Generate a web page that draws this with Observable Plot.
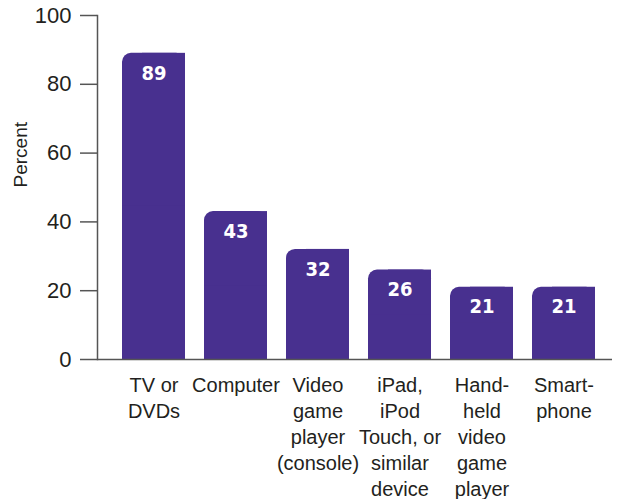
<!DOCTYPE html>
<html>
<head>
<meta charset="utf-8">
<script src="https://cdn.jsdelivr.net/npm/d3@7"></script>
<script src="https://cdn.jsdelivr.net/npm/@observablehq/plot@0.6"></script>
<style>
  html, body { margin: 0; padding: 0; background: #fff; }
  #chart svg { display: block; }
</style>
</head>
<body>
<div id="chart"></div>
<script>
const categories = ["TV or\nDVDs", "Computer", "Video\ngame\nplayer\n(console)", "iPad,\niPod\nTouch, or\nsimilar\ndevice", "Hand-\nheld\nvideo\ngame\nplayer", "Smart-\nphone"];
const values = [89, 43, 32, 26, 21, 21];
const yTicks = [0, 20, 40, 60, 80, 100];
const yLabel = "Percent";

const data = categories.map((c, i) => ({cat: c, value: values[i]}));
const purple = "#48308f";
const narrow = "'Liberation Sans Narrow', 'Arial Narrow', 'Liberation Sans', sans-serif";

const chart = Plot.plot({
  width: 618,
  height: 499,
  marginLeft: 97,
  marginRight: 6,
  marginTop: 15,
  marginBottom: 140,
  style: {fontFamily: narrow, fontStretch: "condensed", background: "#fff"},
  x: {domain: categories, padding: 0.237, align: 0.59, axis: null},
  y: {domain: [0, 100], axis: null},
  marks: [
    Plot.barY(data, {x: "cat", y: "value", fill: purple, rx: 9}),
    Plot.barY(data, {x: "cat", y: "value", fill: purple, insetLeft: 20}),
    Plot.barY(data, {x: "cat", y1: 0, y2: d => d.value / 2, fill: purple}),
    Plot.axisY({ticks: yTicks, tickSize: 17, tickPadding: 9, fontSize: 22, label: null, stroke: "#555", strokeWidth: 1.5, fill: "#231f20"}),
    Plot.frame({anchor: "left", stroke: "#555", strokeWidth: 1.5}),
    Plot.ruleY([0], {stroke: "#555", strokeWidth: 1.5}),
    Plot.text(data, {x: "cat", y: "value", text: d => String(d.value), fill: "#fff", fontFamily: "'DejaVu Sans', sans-serif", fontWeight: "bold", fontSize: 20, lineAnchor: "top", dy: 12}),
    Plot.text(data, {x: "cat", y: () => 0, text: "cat", fill: "#231f20", fontSize: 20, lineAnchor: "top", lineHeight: 1.3, dy: 14}),
    Plot.text([yLabel], {frameAnchor: "left", dx: -77, rotate: -90, text: d => d, fontSize: 19, fill: "#231f20"})
  ]
});
document.getElementById("chart").append(chart);
</script>
</body>
</html>
